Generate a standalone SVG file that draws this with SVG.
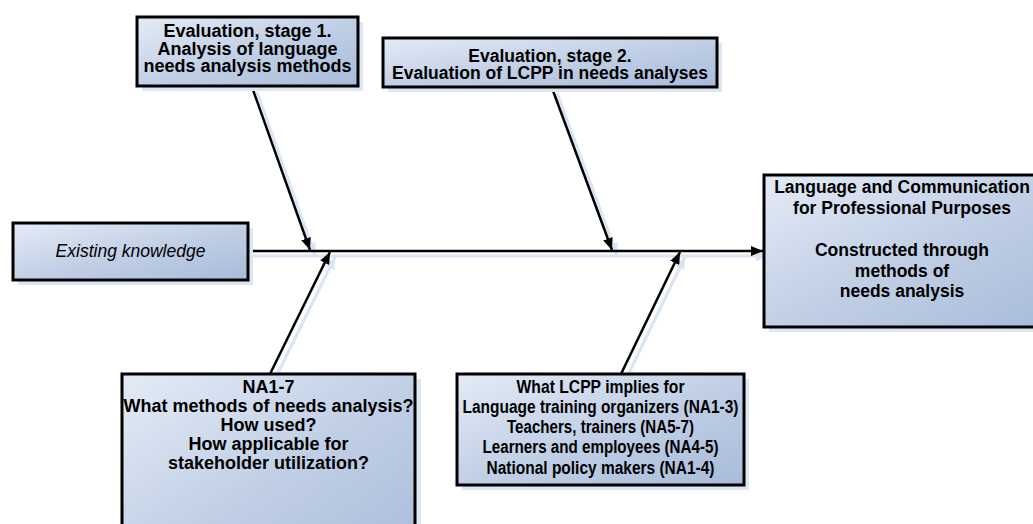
<svg xmlns="http://www.w3.org/2000/svg" width="1033" height="524" viewBox="0 0 1033 524">
<defs>
<linearGradient id="g" x1="0" y1="0" x2="1" y2="1">
<stop offset="0" stop-color="#e4ebf6"/>
<stop offset="0.5" stop-color="#c2d0e6"/>
<stop offset="1" stop-color="#a7bbd9"/>
</linearGradient>
<marker id="ah" viewBox="0 0 12 10" refX="12" refY="5" markerWidth="12" markerHeight="10" markerUnits="userSpaceOnUse" orient="auto">
<path d="M0,0 L12,5 L0,10 Z" fill="#000"/>
</marker>
<marker id="ahs" viewBox="0 0 12 10" refX="12" refY="5" markerWidth="12" markerHeight="10" markerUnits="userSpaceOnUse" orient="auto">
<path d="M0,0 L12,5 L0,10 Z" fill="#dae4f2"/>
</marker>
</defs>
<style>
.box{fill:url(#g);stroke:#000;stroke-width:3}
.sh{fill:#dde6f3;stroke:none}
.t{font-family:"Liberation Sans",Arial,sans-serif;font-size:17.5px;font-weight:bold;fill:#000;text-anchor:middle}
.it{font-family:"Liberation Sans",Arial,sans-serif;font-size:17.5px;font-style:italic;fill:#000;text-anchor:middle}
.s{font-size:17.5px}
.c{stroke:#000;stroke-width:2.5;fill:none;marker-end:url(#ah)}
.cs{stroke:#dae4f2;stroke-width:3;fill:none;marker-end:url(#ahs)}
</style>
<g id="connectors">
<g transform="translate(5,5)">
<line class="cs" x1="248" y1="251" x2="763" y2="251"/>
<line class="cs" x1="252" y1="87" x2="310" y2="250"/>
<line class="cs" x1="270" y1="374" x2="330" y2="252"/>
<line class="cs" x1="552" y1="88" x2="612" y2="250"/>
<line class="cs" x1="621" y1="374" x2="680" y2="252"/>
</g>
<line class="c" x1="248" y1="251" x2="763" y2="251"/>
<line class="c" x1="252" y1="87" x2="310" y2="250"/>
<line class="c" x1="270" y1="374" x2="330" y2="252"/>
<line class="c" x1="552" y1="88" x2="612" y2="250"/>
<line class="c" x1="621" y1="374" x2="680" y2="252"/>
</g>
<g id="stage1">
<rect class="sh" x="142" y="22" width="221" height="69"/>
<rect class="box" x="137" y="17" width="221" height="69"/>
<text class="t" x="247.5" y="37" style="font-size:18px">Evaluation, stage 1.</text>
<text class="t" x="247.5" y="54.5" style="font-size:18px">Analysis of language</text>
<text class="t" x="247.5" y="72" style="font-size:18px">needs analysis methods</text>
</g>
<g id="stage2">
<rect class="sh" x="388" y="43" width="334" height="49"/>
<rect class="box" x="383" y="38" width="334" height="49"/>
<text class="t" x="550" y="62">Evaluation, stage 2.</text>
<text class="t" x="550" y="79">Evaluation of LCPP in needs analyses</text>
</g>
<g id="existing">
<rect class="sh" x="18" y="228" width="235" height="57"/>
<rect class="box" x="13" y="223" width="235" height="57"/>
<text class="it" x="130.5" y="257">Existing knowledge</text>
</g>
<g id="lcpp">
<rect class="sh" x="769" y="180" width="290" height="152"/>
<rect class="box" x="764" y="175" width="290" height="152"/>
<text class="t" x="902" y="193">Language and Communication</text>
<text class="t" x="902" y="214">for Professional Purposes</text>
<text class="t" x="902" y="256">Constructed through</text>
<text class="t" x="902" y="276.5">methods of</text>
<text class="t" x="902" y="297">needs analysis</text>
</g>
<g id="na17">
<rect class="sh" x="127" y="379" width="294" height="200"/>
<rect class="box" x="122" y="374" width="293" height="200"/>
<text class="t" x="268.5" y="393" style="font-size:18px">NA1-7</text>
<text class="t" x="268.5" y="412" style="font-size:18px">What methods of needs analysis?</text>
<text class="t" x="268.5" y="431" style="font-size:18px">How used?</text>
<text class="t" x="268.5" y="450" style="font-size:18px">How applicable for</text>
<text class="t" x="268.5" y="469" style="font-size:18px">stakeholder utilization?</text>
</g>
<g id="implies">
<rect class="sh" x="462" y="379" width="287" height="111"/>
<rect class="box" x="457" y="374" width="287" height="111"/>
<text class="t s" x="600.5" y="393" textLength="168" lengthAdjust="spacingAndGlyphs">What LCPP implies for</text>
<text class="t s" x="600.5" y="413" textLength="276" lengthAdjust="spacingAndGlyphs">Language training organizers (NA1-3)</text>
<text class="t s" x="600.5" y="433" textLength="187" lengthAdjust="spacingAndGlyphs">Teachers, trainers (NA5-7)</text>
<text class="t s" x="600.5" y="453" textLength="236" lengthAdjust="spacingAndGlyphs">Learners and employees (NA4-5)</text>
<text class="t s" x="600.5" y="474" textLength="228" lengthAdjust="spacingAndGlyphs">National policy makers (NA1-4)</text>
</g>
</svg>
